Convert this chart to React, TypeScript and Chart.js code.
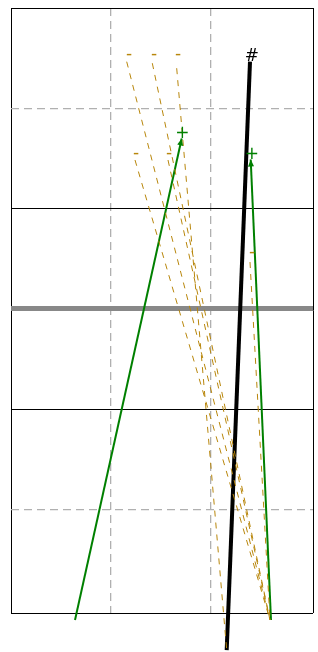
import React, { useEffect, useRef } from "react";
import { Chart, registerables } from "chart.js";

Chart.register(...registerables);

// Axis grid positions (data units)
const xTicks = [0, 1, 2, 3.02];
const yTicks = [-0.03, 1, 2, 3, 4, 5, 6];

// Green arrows (solid, arrowhead at the "to" end), labelled "+"
const arrowFromX = [0.64, 2.6];
const arrowFromY = [-0.1, -0.1];
const arrowToX = [1.707, 2.397];
const arrowToY = [4.7, 4.49];
const arrowLabels = ["+", "+"];
const arrowLabelX = [1.713, 2.407];
const arrowLabelY = [4.76, 4.55];

// Main black line, labelled "#"
const mainFromX = [2.157];
const mainFromY = [-0.4];
const mainToX = [2.39];
const mainToY = [5.465];
const mainLabels = ["#"];
const mainLabelX = [2.407];
const mainLabelY = [5.54];

// Dashed gold connectors, labelled "-"
const dashLabels = ["-", "-", "-", "-", "-", "-"];
const dashLabelX = [1.18, 1.43, 1.67, 1.25, 1.58, 2.41];
const dashLabelY = [5.535, 5.535, 5.535, 4.545, 4.545, 3.568];
const dashStartX = [1.157, 1.413, 1.657, 1.24, 1.57, 2.39];
const dashStartY = [5.465, 5.45, 5.4, 4.485, 4.485, 3.468];
const dashEndX = [2.59, 2.59, 2.157, 2.59, 2.59, 2.59];
const dashEndY = [-0.1, -0.1, -0.4, -0.1, -0.1, -0.1];

const GREEN = "#008000";
const GOLD = "#b8860b";

export default function App() {
  const ref = useRef<HTMLCanvasElement | null>(null);

  useEffect(() => {
    if (!ref.current) return;

    const datasets: any[] = [];
    dashStartX.forEach((_, i) => {
      datasets.push({
        data: [
          { x: dashStartX[i], y: dashStartY[i] },
          { x: dashEndX[i], y: dashEndY[i] },
        ],
        borderColor: GOLD,
        borderWidth: 1,
        borderDash: [6, 6],
        pointRadius: 0,
        clip: false,
        order: 0,
      });
    });
    arrowFromX.forEach((_, i) => {
      datasets.push({
        data: [
          { x: arrowFromX[i], y: arrowFromY[i] },
          { x: arrowToX[i], y: arrowToY[i] },
        ],
        borderColor: GREEN,
        borderWidth: 2,
        pointRadius: 0,
        clip: false,
        order: 1,
      });
    });
    mainFromX.forEach((_, i) => {
      datasets.push({
        data: [
          { x: mainFromX[i], y: mainFromY[i] },
          { x: mainToX[i], y: mainToY[i] },
        ],
        borderColor: "#000000",
        borderWidth: 4,
        pointRadius: 0,
        clip: false,
        order: 2,
      });
    });

    const labels: { t: string; x: number; y: number; c: string }[] = [];
    arrowLabels.forEach((t, i) => labels.push({ t, x: arrowLabelX[i], y: arrowLabelY[i], c: GREEN }));
    mainLabels.forEach((t, i) => labels.push({ t, x: mainLabelX[i], y: mainLabelY[i], c: "#000000" }));
    dashLabels.forEach((t, i) => labels.push({ t, x: dashLabelX[i], y: dashLabelY[i], c: GOLD }));

    const arrowPlugin = {
      id: "arrows",
      afterDatasetsDraw(chart: any) {
        const ctx = chart.ctx;
        const xs = chart.scales.x;
        const ys = chart.scales.y;
        ctx.save();
        arrowFromX.forEach((_, i) => {
          const x0 = xs.getPixelForValue(arrowFromX[i]);
          const y0 = ys.getPixelForValue(arrowFromY[i]);
          const x1 = xs.getPixelForValue(arrowToX[i]);
          const y1 = ys.getPixelForValue(arrowToY[i]);
          const a = Math.atan2(y1 - y0, x1 - x0);
          const L = 7;
          const W = 3;
          const bx = x1 - L * Math.cos(a);
          const by = y1 - L * Math.sin(a);
          ctx.beginPath();
          ctx.moveTo(x1, y1);
          ctx.lineTo(bx + W * Math.sin(a), by - W * Math.cos(a));
          ctx.lineTo(bx - W * Math.sin(a), by + W * Math.cos(a));
          ctx.closePath();
          ctx.fillStyle = GREEN;
          ctx.fill();
        });
        ctx.restore();
      },
      afterDraw(chart: any) {
        const ctx = chart.ctx;
        const xs = chart.scales.x;
        const ys = chart.scales.y;
        ctx.save();
        ctx.font = '17px "DejaVu Sans"';
        ctx.textAlign = "left";
        ctx.textBaseline = "alphabetic";
        labels.forEach((l) => {
          const px = xs.getPixelForValue(l.x);
          const py = ys.getPixelForValue(l.y);
          const m = ctx.measureText(l.t);
          const cx = (m.actualBoundingBoxRight - m.actualBoundingBoxLeft) / 2;
          const cy = (m.actualBoundingBoxDescent - m.actualBoundingBoxAscent) / 2;
          ctx.fillStyle = l.c;
          ctx.fillText(l.t, px - cx, py - cy);
        });
        ctx.restore();
      },
    };

    const near = (v: number, t: number) => Math.abs(v - t) < 1e-6;

    const chart = new Chart(ref.current, {
      type: "line",
      data: { datasets },
      options: {
        animation: false,
        responsive: false,
        events: [],
        layout: { padding: { left: 11, right: 5, top: 8, bottom: 39 } },
        plugins: { legend: { display: false }, tooltip: { enabled: false } },
        scales: {
          x: {
            type: "linear",
            min: xTicks[0],
            max: xTicks[xTicks.length - 1],
            afterBuildTicks: (s: any) => {
              s.ticks = xTicks.map((v) => ({ value: v }));
            },
            ticks: { display: false },
            border: {
              display: false,
              dash: (c: any) => {
                const v = c.tick ? c.tick.value : 0;
                return near(v, xTicks[0]) || near(v, xTicks[xTicks.length - 1]) ? [] : [8, 5];
              },
            },
            grid: {
              drawTicks: false,
              color: (c: any) => {
                const v = c.tick ? c.tick.value : 0;
                return near(v, xTicks[0]) || near(v, xTicks[xTicks.length - 1]) ? "#000000" : "#b0b0b0";
              },
              lineWidth: (c: any) => {
                const v = c.tick ? c.tick.value : 0;
                return near(v, xTicks[0]) || near(v, xTicks[xTicks.length - 1]) ? 1 : 1.3;
              },
            },
          },
          y: {
            type: "linear",
            z: 1,
            min: yTicks[0],
            max: yTicks[yTicks.length - 1],
            afterBuildTicks: (s: any) => {
              s.ticks = yTicks.map((v) => ({ value: v }));
            },
            ticks: { display: false },
            border: {
              display: false,
              dash: (c: any) => {
                const v = c.tick ? c.tick.value : 0;
                return near(v, 1) || near(v, 5) ? [8, 5] : [];
              },
            },
            grid: {
              drawTicks: false,
              color: (c: any) => {
                const v = c.tick ? c.tick.value : 0;
                if (near(v, 1) || near(v, 5)) return "#b0b0b0";
                if (near(v, 3)) return "#888888";
                return "#000000";
              },
              lineWidth: (c: any) => {
                const v = c.tick ? c.tick.value : 0;
                if (near(v, 3)) return 5;
                if (near(v, 1) || near(v, 5)) return 1.3;
                return 1;
              },
            },
          },
        },
      },
      plugins: [arrowPlugin],
    } as any);

    return () => chart.destroy();
  }, []);

  return (
    <div style={{ position: "absolute", left: 0, top: 0, width: 318, height: 652 }}>
      <canvas ref={ref} width={318} height={652} style={{ display: "block" }} />
    </div>
  );
}
